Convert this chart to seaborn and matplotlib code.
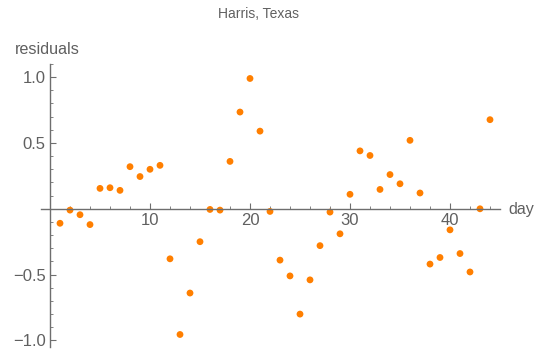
import matplotlib
matplotlib.use("Agg")
import matplotlib.pyplot as plt
import seaborn as sns
import pandas as pd
import numpy as np
from matplotlib.ticker import MultipleLocator

days = list(range(1, 45))
residuals = [-0.11, -0.01, -0.045, -0.12, 0.155, 0.16, 0.14, 0.32, 0.245, 0.30,
             0.33, -0.38, -0.955, -0.64, -0.25, -0.005, -0.01, 0.36, 0.735, 0.99,
             0.59, -0.02, -0.39, -0.51, -0.80, -0.54, -0.28, -0.025, -0.19, 0.11,
             0.44, 0.405, 0.147, 0.26, 0.19, 0.52, 0.12, -0.42, -0.37, -0.16,
             -0.34, -0.48, 0.0, 0.677]
title = "Harris, Texas"
xlabel = "day"
ylabel = "residuals"

df = pd.DataFrame({"day": days, "residuals": residuals})

sns.set_style("white")
plt.rcParams['font.family'] = ['Liberation Sans', 'DejaVu Sans']

fig = plt.figure(figsize=(5.48, 3.56), dpi=100)
ax = fig.add_axes([41/548, 1-347/356, (500-41)/548, (347-64)/356])

sns.scatterplot(data=df, x="day", y="residuals", ax=ax, color="#FF7F00",
                s=24, edgecolor="none", linewidth=0)

ax.set_xlim(-0.9, 45)
ax.set_ylim(-1.05, 1.1)

gray = "#6e6e6e"
txt = "#606060"
for s in ["top", "right"]:
    ax.spines[s].set_visible(False)
ax.spines["left"].set_position(("data", 0))
ax.spines["bottom"].set_position(("data", 0))
for s in ["left", "bottom"]:
    ax.spines[s].set_color(gray)
    ax.spines[s].set_linewidth(1.0)

ax.set_xticks([10, 20, 30, 40])
ax.set_xticklabels(["10", "20", "30", "40"])
ax.set_yticks([-1.0, -0.5, 0.5, 1.0])
ax.set_yticklabels(["\u22121.0", "\u22120.5", "0.5", "1.0"])
ax.xaxis.set_minor_locator(MultipleLocator(2))
ax.yaxis.set_minor_locator(MultipleLocator(0.1))
ax.tick_params(axis="both", which="both", bottom=True, left=True, top=False, right=False)
ax.tick_params(axis="both", which="major", direction="in", length=4, width=0.8,
               color=gray, labelcolor=txt, labelsize=12, pad=3)
ax.tick_params(axis="both", which="minor", direction="in", length=2.5, width=0.6,
               color=gray)
ax.set_xlabel("")
ax.set_ylabel("")

fig.text(15/548, 1-50/356, ylabel, fontsize=11.6, color=txt, va="center", ha="left")
fig.text(508/548, 1-209/356, xlabel, fontsize=11.6, color=txt, va="center", ha="left")
fig.text(0.5 * (218 + 300) / 548, 1-14/356, title, fontsize=10, color=txt,
         va="center", ha="center")

fig.savefig("out.png", dpi=100)
